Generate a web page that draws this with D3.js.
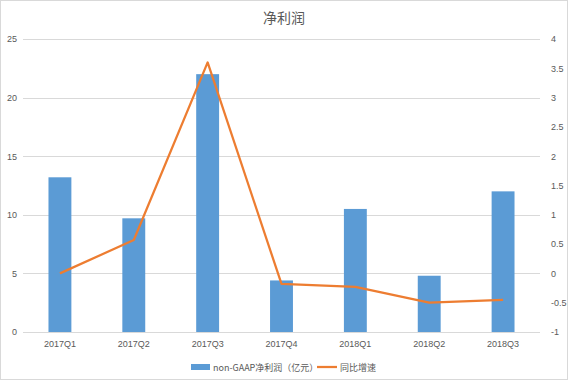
<!DOCTYPE html>
<html>
<head>
<meta charset="utf-8">
<script src="https://cdn.jsdelivr.net/npm/d3@7"></script>
<style>
  body { margin: 0; background: #fff; }
  svg { display: block; font-family: "Noto Sans CJK SC", "Noto Sans", sans-serif; }
  .axis text { fill: #595959; font-size: 9px; }
</style>
</head>
<body>
<div id="container"></div>
<script>
/* CONSTANTS AND GLOBALS */
const width = 568,
  height = 380,
  margin = { top: 39, bottom: 48, left: 23, right: 28 };

/* DATA */
const quarters = ["2017Q1", "2017Q2", "2017Q3", "2017Q4", "2018Q1", "2018Q2", "2018Q3"];
const profit = [13.2, 9.7, 22.0, 4.4, 10.5, 4.8, 12.0];
const growth = [0.0, 0.57, 3.6, -0.18, -0.23, -0.5, -0.45];
const leftTicks = [0, 5, 10, 15, 20, 25];
const rightTicks = [-1, -0.5, 0, 0.5, 1, 1.5, 2, 2.5, 3, 3.5, 4];

const data = quarters.map((q, i) => ({ q, profit: profit[i], growth: growth[i] }));

// SCALES
const xScale = d3.scaleBand()
  .domain(quarters)
  .range([margin.left, width - margin.right])
  .paddingInner(0.69)
  .paddingOuter(0.345);

const yScale = d3.scaleLinear()
  .domain([0, 25])
  .range([height - margin.bottom, margin.top]);

const y2Scale = d3.scaleLinear()
  .domain([-1, 4])
  .range([height - margin.bottom, margin.top]);

// CREATE SVG ELEMENT
const svg = d3.select("#container")
  .append("svg")
  .attr("width", width)
  .attr("height", height);

svg.append("rect")
  .attr("x", 0.5).attr("y", 0.5)
  .attr("width", width - 1).attr("height", height - 1)
  .attr("fill", "#fff")
  .attr("stroke", "#d9d9d9");

// TITLE
svg.append("text")
  .attr("x", width / 2)
  .attr("y", 23)
  .attr("text-anchor", "middle")
  .attr("fill", "#595959")
  .attr("font-size", "14px")
  .text("净利润");

// GRIDLINES
svg.append("g")
  .selectAll("line")
  .data(leftTicks)
  .join("line")
    .attr("x1", margin.left)
    .attr("x2", width - margin.right)
    .attr("y1", d => Math.round(yScale(d)) + 0.5)
    .attr("y2", d => Math.round(yScale(d)) + 0.5)
    .attr("stroke", "#d9d9d9");

// AXES
const yAxis = d3.axisLeft(yScale).tickValues(leftTicks).tickSize(0).tickPadding(6);
svg.append("g")
  .attr("class", "axis")
  .attr("transform", `translate(${margin.left},0)`)
  .call(yAxis)
  .call(g => g.select(".domain").remove());

const y2Axis = d3.axisRight(y2Scale).tickValues(rightTicks).tickSize(0).tickPadding(11)
  .tickFormat(d => String(d));
svg.append("g")
  .attr("class", "axis")
  .attr("transform", `translate(${width - margin.right},0)`)
  .call(y2Axis)
  .call(g => g.select(".domain").remove());

const xAxis = d3.axisBottom(xScale).tickSize(0).tickPadding(9);
svg.append("g")
  .attr("class", "axis")
  .attr("transform", `translate(0,${height - margin.bottom})`)
  .call(xAxis)
  .call(g => g.select(".domain").remove());

// BARS
svg.append("g")
  .selectAll("rect")
  .data(data)
  .join("rect")
    .attr("x", d => xScale(d.q))
    .attr("y", d => yScale(d.profit))
    .attr("width", xScale.bandwidth())
    .attr("height", d => yScale(0) - yScale(d.profit))
    .attr("fill", "#5b9bd5");

// LINE
const lineGen = d3.line()
  .x(d => xScale(d.q) + xScale.bandwidth() / 2)
  .y(d => y2Scale(d.growth));

svg.append("path")
  .datum(data)
  .attr("d", lineGen)
  .attr("fill", "none")
  .attr("stroke", "#ed7d31")
  .attr("stroke-width", 2.25)
  .attr("stroke-linejoin", "round");

// LEGEND
const legend = svg.append("g").attr("transform", "translate(191,367)");
legend.append("rect")
  .attr("x", 0).attr("y", -3)
  .attr("width", 19).attr("height", 6)
  .attr("fill", "#5b9bd5");
legend.append("text")
  .attr("x", 22).attr("y", 3.5)
  .attr("fill", "#595959")
  .attr("font-size", "9px")
  .text("non-GAAP净利润（亿元）");
legend.append("line")
  .attr("x1", 126).attr("x2", 146)
  .attr("y1", 0).attr("y2", 0)
  .attr("stroke", "#ed7d31")
  .attr("stroke-width", 2.25);
legend.append("text")
  .attr("x", 149).attr("y", 3.5)
  .attr("fill", "#595959")
  .attr("font-size", "9px")
  .text("同比增速");
</script>
</body>
</html>
